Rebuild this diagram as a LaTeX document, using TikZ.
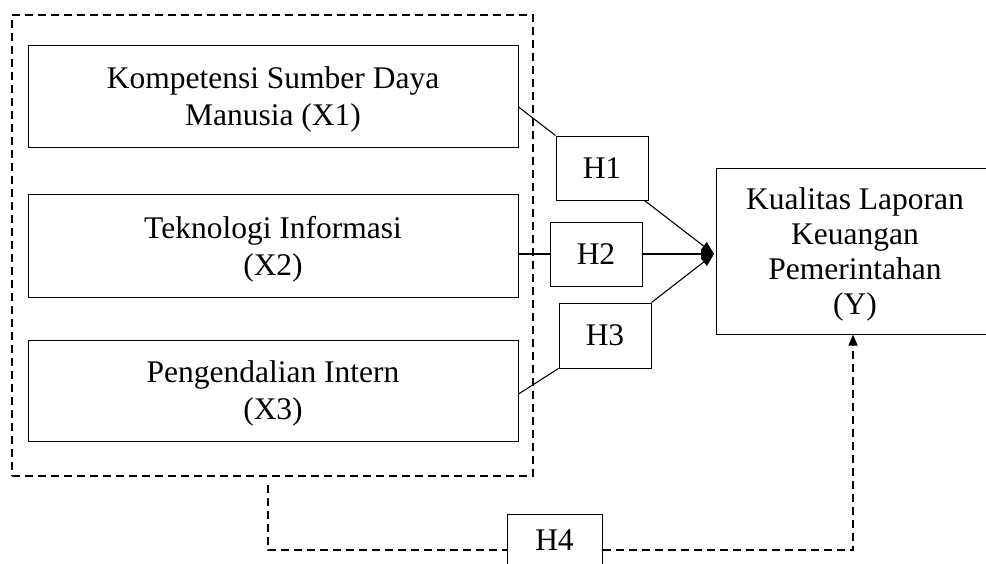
\documentclass[tikz,border=0pt]{standalone}
\usepackage{fontspec}
\setmainfont{Liberation Serif}
\usetikzlibrary{arrows.meta}
\begin{document}
\begin{tikzpicture}[x=1pt,y=-1pt,
  every node/.style={font=\fontsize{31.5}{37}\selectfont, align=center, inner sep=0pt, text depth=0pt},
  varbox/.style={draw, line width=1pt, minimum width=490pt},
  hbox/.style={draw, line width=1pt, minimum width=92pt, minimum height=64pt},
  conn/.style={line width=1.1pt},
  arr/.style={conn, -{Triangle[length=13pt,width=10pt]}},
  dsh/.style={line width=1.3pt, dash pattern=on 8pt off 5pt},
]
\useasboundingbox (0,0) rectangle (986,563);
% group
\node[dsh, draw, minimum width=521pt, minimum height=461pt] (grp) at (272.5,245.5) {};
% variable boxes
\node[varbox, minimum height=102pt] (x1) at (273,96) {Kompetensi Sumber Daya\\Manusia (X1)};
\node[varbox, minimum height=103pt] (x2) at (273,245.5) {Teknologi Informasi\\(X2)};
\node[varbox, minimum height=101pt] (x3) at (273,390.5) {Pengendalian Intern\\(X3)};
% hypothesis boxes
\node[hbox] (h1) at (602,168) {H1};
\node[hbox] (h2) at (596,254) {H2};
\node[hbox, minimum height=65pt] (h3) at (605,335.5) {H3};
\node[draw, line width=1pt, minimum width=95pt, minimum height=52pt] (h4) at (554.5,540) {H4};
% dependent
\node[draw, line width=1pt, minimum width=278pt, minimum height=166pt,
      font=\fontsize{31.5}{35}\selectfont] (y) at (855,251) {Kualitas Laporan\\Keuangan\\Pemerintahan\\(Y)};
% connectors
\coordinate (tip) at (714,254);
\draw[conn] ([yshift=-11pt]x1.east) -- (h1.north west);
\draw[arr] ([xshift=-4pt]h1.south east) -- (tip);
\draw[conn] (x2.east |- h2.west) -- (h2.west);
\draw[arr] (h2.east) -- (tip);
\draw[conn] ([yshift=-3.5pt]x3.east) -- (h3.south west);
\draw[arr] (h3.north east) -- (tip);
% H4 path
\coordinate (d0) at (268,485);
\draw[dsh] (d0) |- ([yshift=-10pt]h4.west);
\draw[dsh, -{Triangle[length=11pt,width=9pt]}] ([yshift=-10pt]h4.east) -| ([xshift=-2pt]y.south);
\end{tikzpicture}
\end{document}
